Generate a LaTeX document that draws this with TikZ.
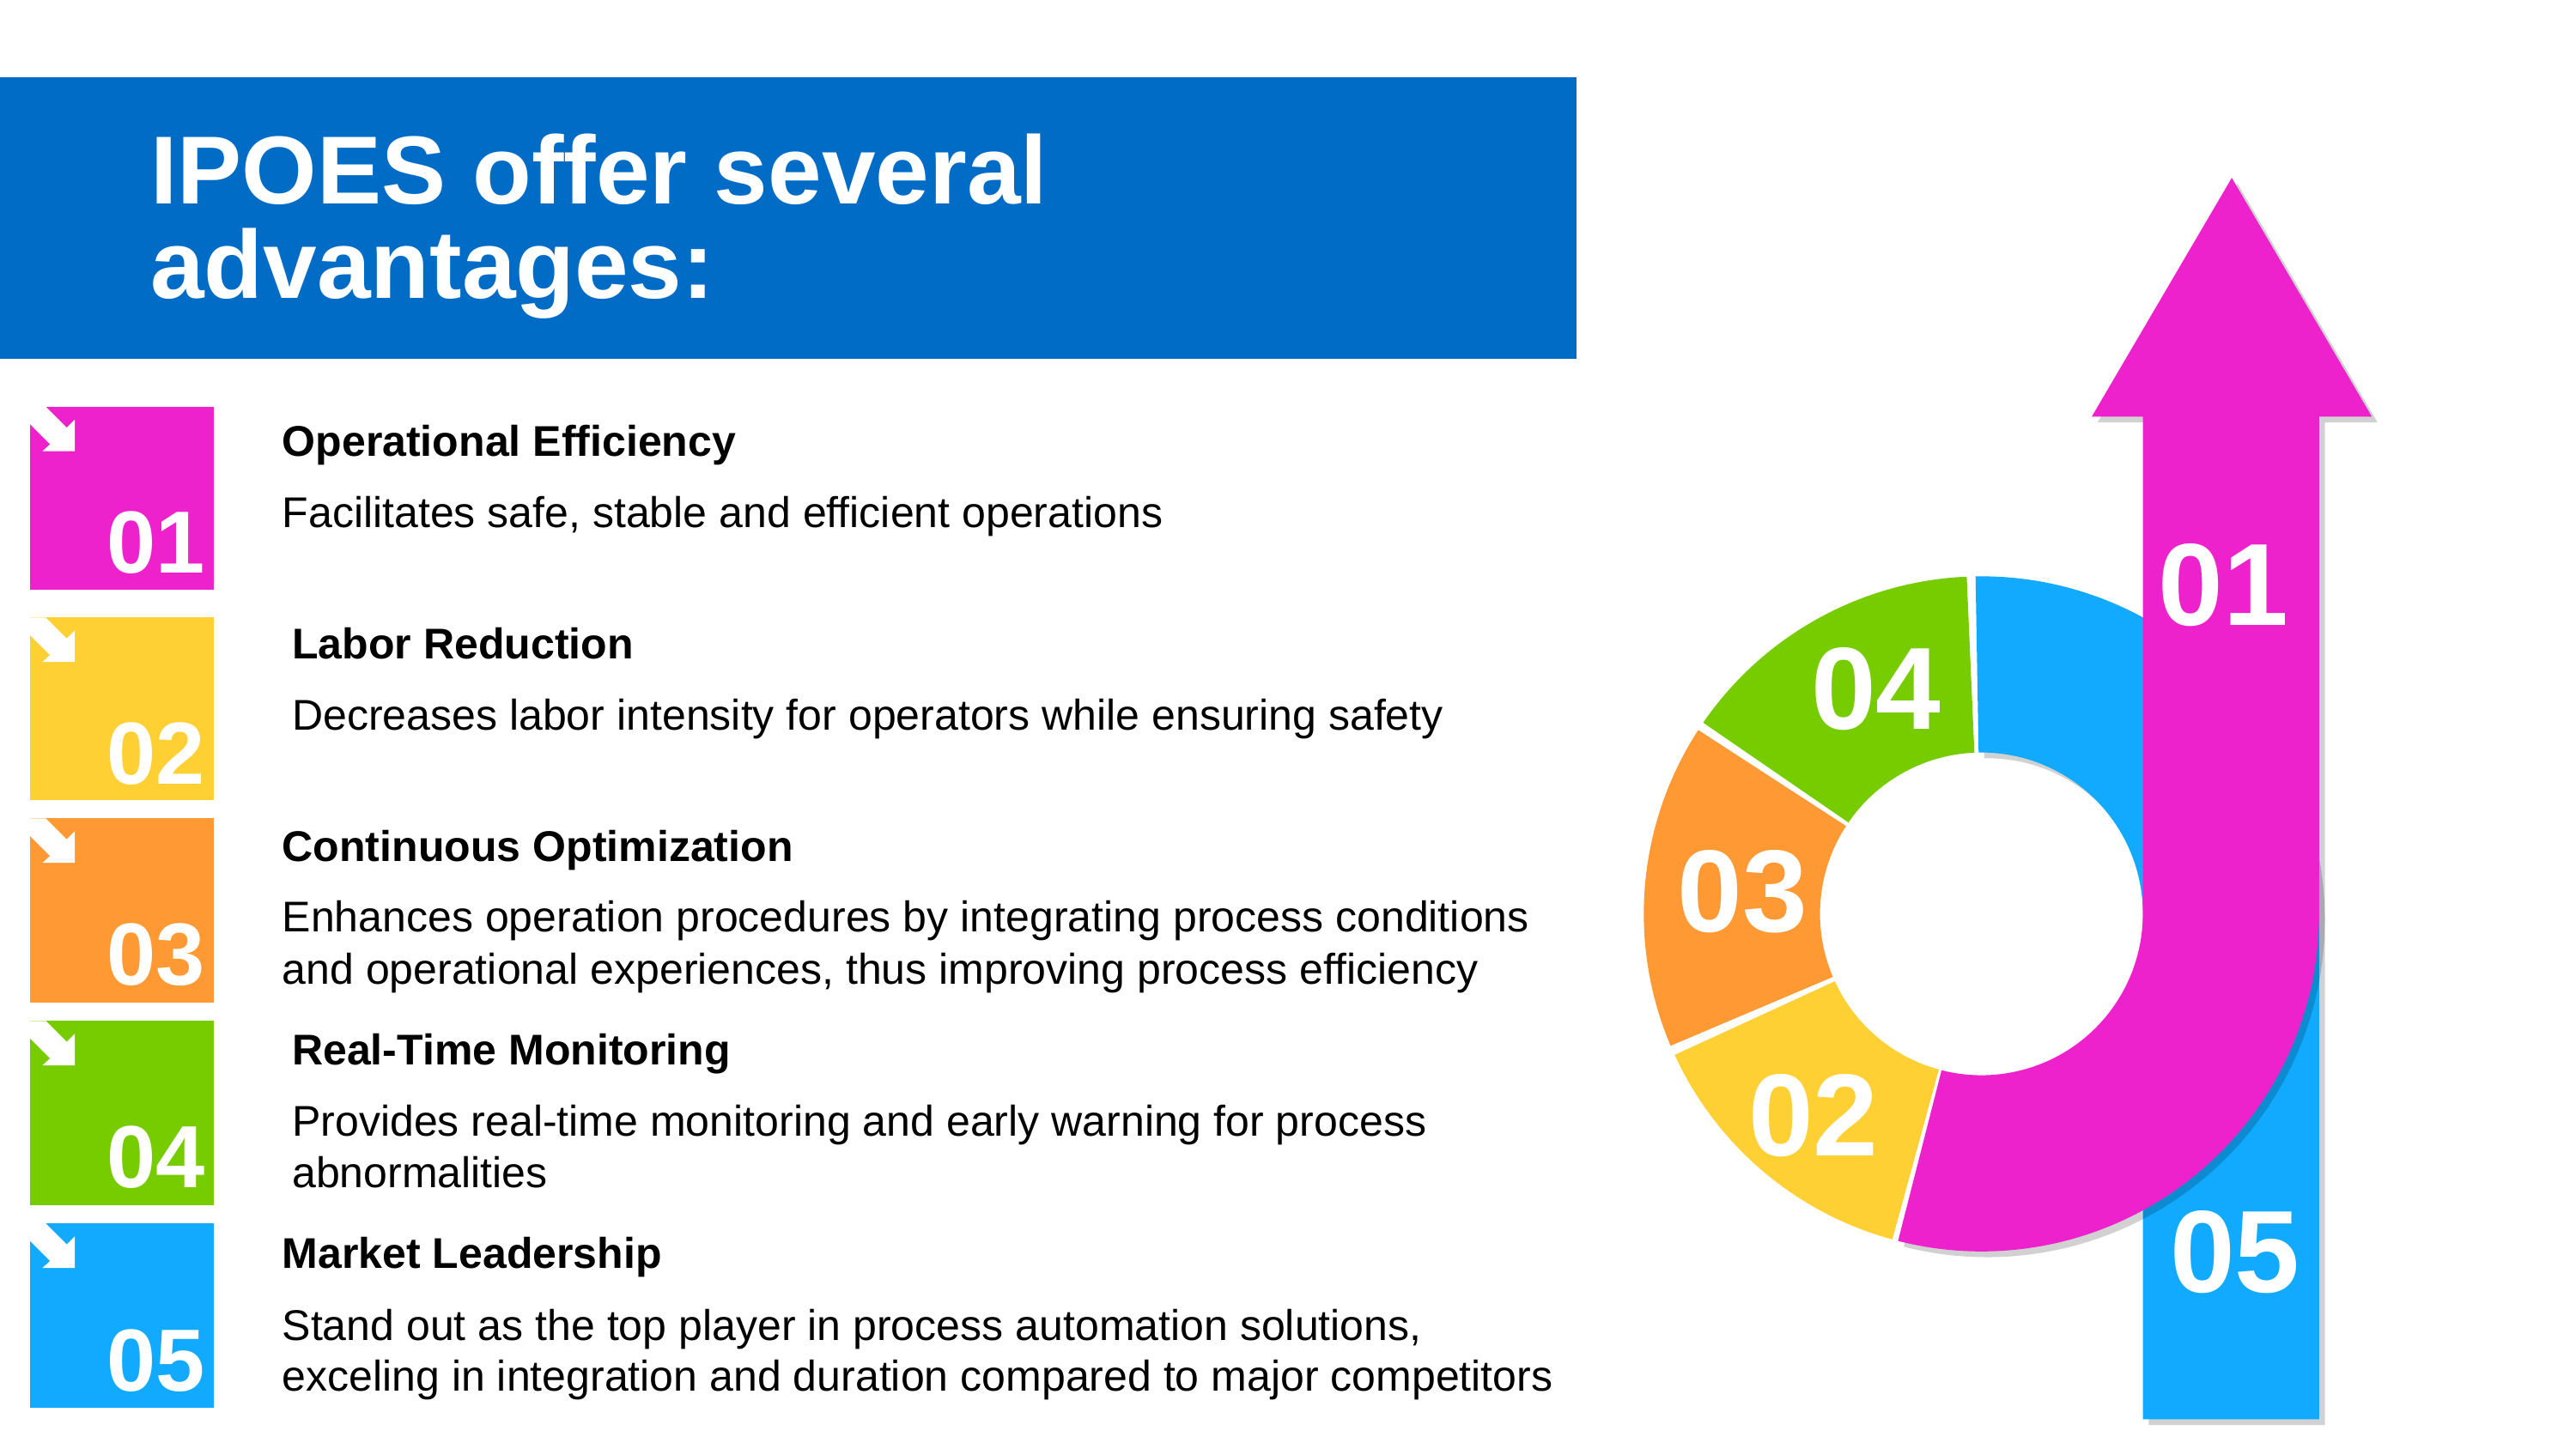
\documentclass[tikz,border=0pt]{standalone}
\usepackage{fontspec}
\setmainfont{Liberation Sans}
\usepackage{tikz}
\usetikzlibrary{shadows}
\definecolor{Banner}{RGB}{0,108,198}
\definecolor{Pink}{RGB}{238,34,204}
\definecolor{Gold}{RGB}{255,208,51}
\definecolor{Tangerine}{RGB}{255,153,51}
\definecolor{Lime}{RGB}{119,204,0}
\definecolor{Sky}{RGB}{17,170,255}

\tikzset{
    bannertext/.style={anchor=base west, inner sep=0pt, text=white,
        font=\fontsize{33.4}{33}\selectfont\bfseries},
    heading/.style={anchor=base west, inner sep=0pt,
        font=\fontsize{14.85}{18}\selectfont\bfseries},
    body/.style={anchor=base west, inner sep=0pt,
        font=\fontsize{14.85}{18}\selectfont},
    boxnum/.style={anchor=base east, inner sep=0pt, text=white,
        font=\fontsize{30.5}{31}\selectfont\bfseries},
    ringnum/.style={anchor=base, inner sep=0pt, text=white,
        font=\fontsize{40.4}{41}\selectfont\bfseries},
    softshadow/.style={drop shadow={shadow xshift=0.07cm, shadow yshift=-0.07cm,
        opacity=0.18, fill=black}},
    corner/.pic={
        \fill[white] (0,0) -- (9.8,0) -- (22.5,12.7) -- (27.4,7.8) -- (27.4,27)
        -- (7.8,27) -- (12.4,22.8) -- (0,10.4) -- cycle;
    }
}

\begin{document}
\begin{tikzpicture}[x=0.02cm, y=-0.02cm]
    %% Background
    \useasboundingbox (0,0) rectangle (1564,880);

    %% Banner
    \fill[Banner] (0,47) rectangle (957,218);
    \draw
    (91,124) node[bannertext] (title1) {IPOES offer several}
    (91,181) node[bannertext] (title2) {advantages:}
    ;

    %% Item 1
    \fill[Pink] (18,247) rectangle (130,358);
    \draw (18,247) pic{corner};
    \draw
    (125,348) node[boxnum] (num1) {01}
    (171,277) node[heading] (head1) {Operational Efficiency}
    (171,320.5) node[body] (text1) {Facilitates safe, stable and efficient operations}
    ;

    %% Item 2
    \fill[Gold] (18,375) rectangle (130,486);
    \draw (18,375) pic{corner};
    \draw
    (125,476) node[boxnum] (num2) {02}
    (177,400) node[heading] (head2) {Labor Reduction}
    (177,443.5) node[body] (text2) {Decreases labor intensity for operators while ensuring safety}
    ;

    %% Item 3
    \fill[Tangerine] (18,497) rectangle (130,609);
    \draw (18,497) pic{corner};
    \draw
    (125,598) node[boxnum] (num3) {03}
    (171,523) node[heading] (head3) {Continuous Optimization}
    (171,566) node[body] (text3a) {Enhances operation procedures by integrating process conditions}
    (171,597.5) node[body] (text3b) {and operational experiences, thus improving process efficiency}
    ;

    %% Item 4
    \fill[Lime] (18,620) rectangle (130,732);
    \draw (18,620) pic{corner};
    \draw
    (125,721) node[boxnum] (num4) {04}
    (177,646.5) node[heading] (head4) {Real-Time Monitoring}
    (177,690) node[body] (text4a) {Provides real-time monitoring and early warning for process}
    (177,721.5) node[body] (text4b) {abnormalities}
    ;

    %% Item 5
    \fill[Sky] (18,743) rectangle (130,855);
    \draw (18,743) pic{corner};
    \draw
    (125,845) node[boxnum] (num5) {05}
    (171,770) node[heading] (head5) {Market Leadership}
    (171,814) node[body] (text5a) {Stand out as the top player in process automation solutions,}
    (171,845) node[body] (text5b) {exceling in integration and duration compared to major competitors}
    ;

    %% Ring and arrow
    \begin{scope}[shift={(1203,555)}]
        % segment 05 with its bar
        \fill[Sky, softshadow] (269:205) arc[start angle=269, end angle=360, radius=205]
        -- (205,307) -- (98,307) -- (0:98)
        arc[start angle=360, end angle=269, radius=98] -- cycle;
        % segments 02 to 04
        \fill[Gold] (105.3:205) arc[start angle=105.3, end angle=155.3, radius=205]
        -- (155.3:98) arc[start angle=155.3, end angle=105.3, radius=98] -- cycle;
        \fill[Tangerine] (157:205) arc[start angle=157, end angle=213, radius=205]
        -- (213:98) arc[start angle=213, end angle=157, radius=98] -- cycle;
        \fill[Lime] (214.5:205) arc[start angle=214.5, end angle=267.5, radius=205]
        -- (267.5:98) arc[start angle=267.5, end angle=214.5, radius=98] -- cycle;
        % segment 01 with the arrow
        \fill[Pink, softshadow] (152,-447) -- (237,-302) -- (205,-302) -- (0:205)
        arc[start angle=0, end angle=104.3, radius=205]
        -- (104.3:98) arc[start angle=104.3, end angle=0, radius=98]
        -- (98,-302) -- (67,-302) -- cycle;
    \end{scope}

    \draw
    (1350,380) node[ringnum] (ring1) {01}
    (1101,702) node[ringnum] (ring2) {02}
    (1058,566) node[ringnum] (ring3) {03}
    (1139,443) node[ringnum] (ring4) {04}
    (1357,785) node[ringnum] (ring5) {05}
    ;
\end{tikzpicture}
\end{document}
